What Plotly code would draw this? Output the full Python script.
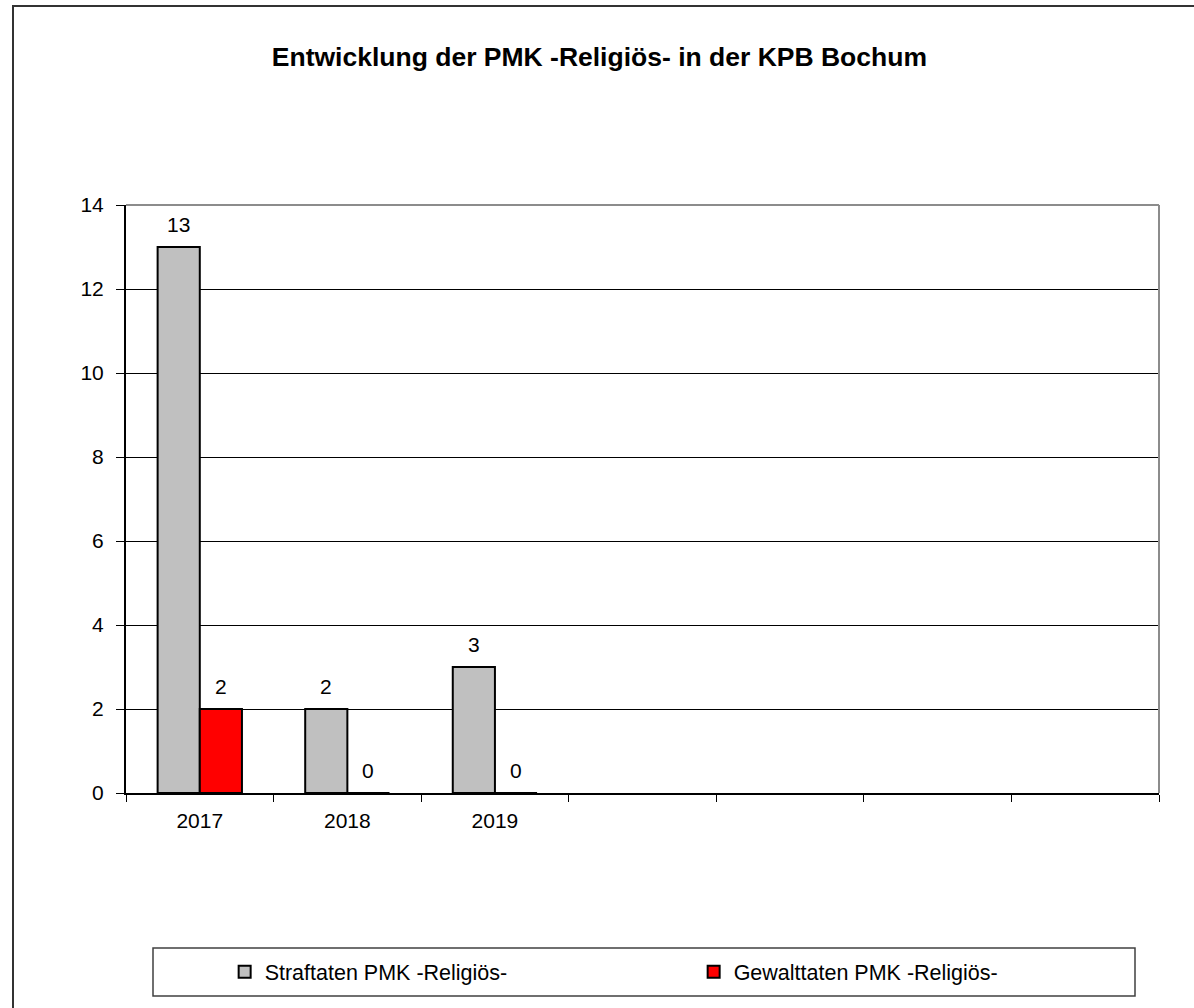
import plotly.graph_objects as go

# categories shown on the x axis (the Excel chart keeps 4 empty slots)
jahre = ["2017", "2018", "2019"]
leere_kategorien = [" ", "  ", "   ", "    "]
straftaten = [13, 2, 3]
gewalttaten = [2, 0, 0]
y_ticks = [0, 2, 4, 6, 8, 10, 12, 14]

FONT = "Liberation Sans, Arial, sans-serif"
BARGAP = 0.4286

fig = go.Figure()
fig.add_trace(go.Bar(
    x=jahre, y=straftaten, name="Straftaten PMK -Religiös-",
    marker=dict(color="#c0c0c0", line=dict(color="#000000", width=2)),
))
fig.add_trace(go.Bar(
    x=jahre, y=gewalttaten, name="Gewalttaten PMK -Religiös-",
    marker=dict(color="#ff0000", line=dict(color="#000000", width=2)),
))

# value labels above each bar (Excel places them a bit higher than plotly's "outside")
bar_w = (1 - BARGAP) / 2
annotations = []
for serie, werte in ((0, straftaten), (1, gewalttaten)):
    offset = (serie - 0.5) * bar_w
    for i, v in enumerate(werte):
        annotations.append(dict(
            x=i + offset, y=v, xref="x", yref="y", text=str(v),
            showarrow=False, yshift=23, yanchor="middle",
            font=dict(size=21, family=FONT, color="#000000"),
        ))

fig.update_layout(
    width=1194, height=1008,
    margin=dict(l=126, r=35, t=205, b=215, autoexpand=False),
    paper_bgcolor="white", plot_bgcolor="white",
    barmode="group", bargap=BARGAP, bargroupgap=0,
    font=dict(family=FONT, size=21, color="#000000"),
    title=dict(
        text="<b>Entwicklung der PMK -Religiös- in der KPB Bochum</b>",
        x=0.502, xanchor="center", xref="container",
        y=1 - 57 / 1008, yanchor="middle", yref="container",
        font=dict(size=26.5, family=FONT, color="#000000"),
    ),
    showlegend=True,
    legend=dict(
        orientation="h", x=0.0955, xanchor="left", y=-0.304, yanchor="middle",
        font=dict(size=21.5, family=FONT, color="#000000"),
        entrywidth=424, entrywidthmode="pixels",
        bgcolor="rgba(0,0,0,0)", borderwidth=0,
        traceorder="normal",
    ),
    xaxis=dict(
        type="category", categoryorder="array",
        categoryarray=jahre + leere_kategorien,
        range=[-0.5, len(jahre) + len(leere_kategorien) - 0.5],
        tickson="boundaries", ticks="outside", ticklen=7, tickwidth=1,
        tickcolor="#000000", showline=True, linecolor="#000000", linewidth=2,
        showgrid=False, ticklabelstandoff=8,
        tickfont=dict(size=21, family=FONT, color="#000000"),
    ),
    yaxis=dict(
        range=[0, 14], tickvals=y_ticks, ticks="outside", ticklen=8,
        tickcolor="#000000", showline=True, linecolor="#000000", linewidth=2,
        showgrid=True, gridcolor="#000000", gridwidth=1, zeroline=False,
        ticklabelstandoff=8,
        tickfont=dict(size=21, family=FONT, color="#000000"),
    ),
    annotations=annotations,
    shapes=[
        # plot area frame, top and right in grey
        dict(type="line", xref="paper", yref="paper", x0=0, x1=1, y0=1, y1=1,
             line=dict(color="#8c8c8c", width=2)),
        dict(type="line", xref="paper", yref="paper", x0=1, x1=1, y0=0, y1=1,
             line=dict(color="#8c8c8c", width=2)),
        # outer chart border
        dict(type="rect", xref="paper", yref="paper",
             x0=(13 - 126) / 1033, x1=(1200 - 126) / 1033,
             y0=(793 - 1015) / 588, y1=(793 - 6) / 588,
             line=dict(color="#333333", width=2)),
        # legend box
        dict(type="rect", xref="paper", yref="paper",
             x0=(153 - 126) / 1033, x1=(1135 - 126) / 1033,
             y0=(793 - 996) / 588, y1=(793 - 948) / 588,
             line=dict(color="#404040", width=1.5)),
    ],
)

fig.write_html("out.html", config={"displayModeBar": False},
               post_script="document.body.style.margin='0';")
